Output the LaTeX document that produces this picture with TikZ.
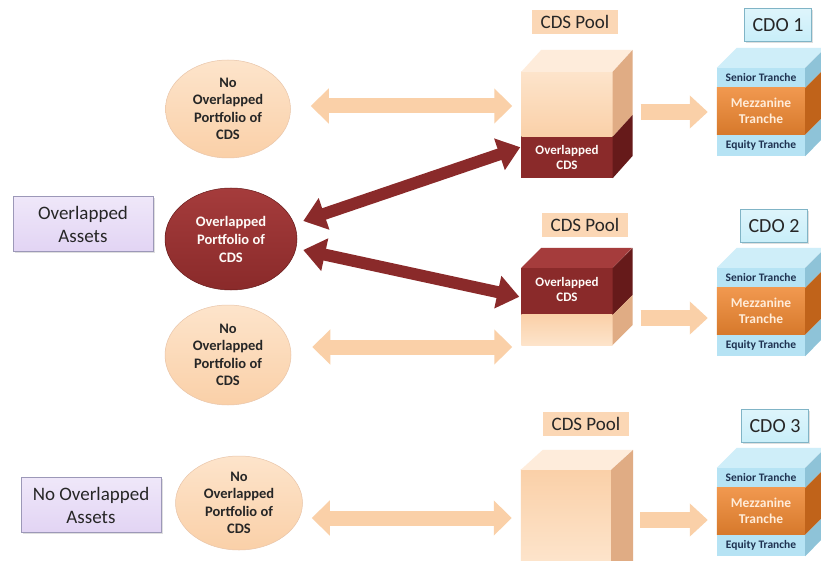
\documentclass[tikz,border=0pt]{standalone}
\usepackage{fontspec}
\setmainfont{Carlito}
\usetikzlibrary{shapes.geometric,arrows.meta,calc,shadows}

\definecolor{peach}{HTML}{FAD0A8}
\definecolor{peachlight}{HTML}{FDE4CB}
\definecolor{peachdark}{HTML}{E0AC84}
\definecolor{wine}{HTML}{8A2A2A}
\definecolor{winedark}{HTML}{661A1A}
\definecolor{winelight}{HTML}{A53C3C}
\definecolor{lav}{HTML}{E2D4F4}
\definecolor{lavline}{HTML}{9C98B8}
\definecolor{skyb}{HTML}{C8EEF9}
\definecolor{skyline}{HTML}{80B4C6}
\definecolor{tranche}{HTML}{B6E3F4}
\definecolor{tranchetop}{HTML}{CFEEF9}
\definecolor{tranchedark}{HTML}{8EC3D8}
\definecolor{mezz}{HTML}{EE8630}
\definecolor{mezzdark}{HTML}{C0631A}
\definecolor{navytxt}{HTML}{1E3150}
\definecolor{ink}{HTML}{262626}

\tikzset{
  assetbox/.style={rectangle, minimum width=140pt, minimum height=55pt,
    top color=lav!55!white, bottom color=lav, draw=lavline, line width=0.8pt,
    font=\fontsize{19}{23}\selectfont, align=center, text=ink,
    drop shadow={opacity=0.25, shadow xshift=1.5pt, shadow yshift=-1.5pt}},
  lightoval/.style={ellipse, top color=peachlight, bottom color=peach,
    draw=peachdark!70, line width=0.5pt, inner sep=0pt,
    font=\bfseries\fontsize{14.5}{17.5}\selectfont, align=center, text=ink},
  darkoval/.style={ellipse, top color=winelight, bottom color=wine,
    draw=winedark, line width=0.5pt, inner sep=0pt,
    font=\bfseries\fontsize{14.5}{18}\selectfont, align=center, text=white!92!peach},
  poollabel/.style={rectangle, fill=peach!85, minimum width=86pt, minimum height=24pt,
    inner sep=0pt, font=\fontsize{19}{22}\selectfont, text=ink},
  cdolabel/.style={rectangle, top color=skyb!60!white, bottom color=skyb, draw=skyline,
    line width=0.6pt, minimum width=67pt, minimum height=33pt, inner sep=0pt,
    font=\fontsize{20}{22}\selectfont, text=ink,
    drop shadow={opacity=0.25, shadow xshift=1.5pt, shadow yshift=-1.5pt}},
  blockref/.style={rectangle, inner sep=0pt, draw=none},
  cubetext/.style={font=\bfseries\fontsize{13}{15}\selectfont, align=center, text=white!92!peach},
  tranchetext/.style={font=\bfseries\fontsize{11.5}{13}\selectfont, text=navytxt},
  mezztext/.style={font=\bfseries\fontsize{13.5}{16}\selectfont, align=center, text=white!85!orange},
  peachdouble/.style={draw=peach, line width=15pt,
    {Triangle[length=18pt,width=34pt]}-{Triangle[length=18pt,width=34pt]}},
  peachsingle/.style={draw=peach, line width=16pt, -{Triangle[length=18pt,width=32pt]}},
  winedouble/.style={draw=wine, line width=12pt,
    {Triangle[length=22pt,width=32pt]}-{Triangle[length=22pt,width=32pt]}},
}

\begin{document}
\begin{tikzpicture}[x=1pt,y=-1pt]
\useasboundingbox (0,0) rectangle (821,561);
\fill[white] (0,0) rectangle (821,561);
\clip (0,0) rectangle (821,561);

% ---- left column: asset boxes and portfolio ovals
\node[assetbox] (oa) at (83,224) {Overlapped\\Assets};
\node[assetbox] (noa) at (91,505) {No Overlapped\\Assets};

\node[lightoval, minimum width=125pt, minimum height=98pt] (e1) at (228,109) {No\\Overlapped\\Portfolio of\\CDS};
\node[darkoval, minimum width=132pt, minimum height=102pt] (e2) at (231,239) {Overlapped\\Portfolio of\\CDS};
\node[lightoval, minimum width=126pt, minimum height=100pt] (e3) at (228,355) {No\\Overlapped\\Portfolio of\\CDS};
\node[lightoval, minimum width=127pt, minimum height=94pt] (e4) at (239,503) {No\\Overlapped\\Portfolio of\\CDS};

% ---- reference frames for the pool cubes and CDO cubes (front faces)
\node[blockref, minimum width=91pt, minimum height=106pt] (pool1) at (567,125) {};
\node[blockref, minimum width=91pt, minimum height=77pt] (pool2) at (567,306.5) {};
\node[blockref, minimum width=90pt, minimum height=91pt] (pool3) at (566,515.5) {};
\node[blockref, minimum width=88pt, minimum height=88pt] (cdo1) at (761,112) {};
\node[blockref, minimum width=88pt, minimum height=88pt] (cdo2) at (761,312) {};
\node[blockref, minimum width=88pt, minimum height=88pt] (cdo3) at (761,512) {};

% ---- connectors between ovals and pools
\draw[peachdouble] ($(e1.east)+(20,-3)$) -- ($(pool1.west |- e1.east)+(-9,-3)$);
\draw[peachdouble] ($(e3.east)+(21,-8)$) -- ($(pool2.west |- e3.east)+(-9,-8)$);
\draw[peachdouble] ($(e4.east)+(9,15)$) -- ($(pool3.west |- e4.east)+(-9,15)$);
\draw[winedouble] ($(e2.east)+(6,-18)$) -- ($(pool1.south west)+(-1,-31)$);
\draw[winedouble] ($(e2.east)+(6,11)$) -- ($(pool2.north west)+(-2,29)$);

% ---- pool cube 1: overlapped CDS at the bottom
\fill[top color=peachlight, bottom color=peach] (pool1.north west) rectangle ($(pool1.north east)+(0,65)$);
\fill[wine] ($(pool1.north west)+(0,65)$) rectangle (pool1.south east);
\fill[peachlight!70!white] (pool1.north west) -- ++(20,-22) -- ++(91,0) -- (pool1.north east) -- cycle;
\fill[peachdark] (pool1.north east) -- ++(20,-22) -- ++(0,65) -- ++(-20,22) -- cycle;
\fill[winedark] ($(pool1.north east)+(0,65)$) -- ++(20,-22) -- ++(0,41) -- (pool1.south east) -- cycle;
\node[cubetext] (t1) at ($(pool1.south)+(0,-21)$) {Overlapped\\CDS};

% ---- pool cube 2: overlapped CDS on top
\fill[wine] (pool2.north west) rectangle ($(pool2.north east)+(0,47)$);
\fill[top color=peach, bottom color=peachlight] ($(pool2.north west)+(0,47)$) rectangle (pool2.south east);
\fill[winelight] (pool2.north west) -- ++(20,-20) -- ++(91,0) -- (pool2.north east) -- cycle;
\fill[winedark] (pool2.north east) -- ++(20,-20) -- ++(0,47) -- ++(-20,20) -- cycle;
\fill[peachdark] ($(pool2.north east)+(0,47)$) -- ++(20,-20) -- ++(0,30) -- ++(-20,20) -- cycle;
\node[cubetext] (t2) at ($(pool2.north)+(0,22)$) {Overlapped\\CDS};

% ---- pool cube 3: no overlap, running off the lower edge
\fill[top color=peach, bottom color=peachlight] (pool3.north west) rectangle (pool3.south east);
\fill[peachlight!70!white] (pool3.north west) -- ++(22,-20) -- ++(90,0) -- (pool3.north east) -- cycle;
\fill[peachdark] (pool3.north east) -- ++(22,-20) -- ($(pool3.south east)+(22,0)$) -- (pool3.south east) -- cycle;

% ---- CDO cubes with three tranches
\foreach \c in {cdo1,cdo2,cdo3}{
  \fill[tranche] (\c.north west) rectangle ($(\c.north east)+(0,20)$);
  \fill[top color=mezz!85!white, bottom color=mezz!90!black] ($(\c.north west)+(0,20)$) rectangle ($(\c.north east)+(0,67)$);
  \fill[tranche] ($(\c.north west)+(0,67)$) rectangle (\c.south east);
  \fill[tranchetop] (\c.north west) -- ++(20,-20) -- ++(88,0) -- (\c.north east) -- cycle;
  \fill[tranchedark] (\c.north east) -- ++(20,-20) -- ++(0,20) -- ++(-20,20) -- cycle;
  \fill[mezzdark] ($(\c.north east)+(0,20)$) -- ++(20,-20) -- ++(0,47) -- ++(-20,20) -- cycle;
  \fill[tranchedark] ($(\c.north east)+(0,67)$) -- ++(20,-20) -- ++(0,21) -- (\c.south east) -- cycle;
  \node[tranchetext] at ($(\c.north)+(0,10)$) {Senior Tranche};
  \node[mezztext] at ($(\c.north)+(0,43.5)$) {Mezzanine\\Tranche};
  \node[tranchetext] at ($(\c.south)+(0,-10.5)$) {Equity Tranche};
}

% ---- pool to CDO connectors
\draw[peachsingle] ($(pool1.east |- cdo1.west)+(28,0)$) -- ($(cdo1.west)+(-9,0)$);
\draw[peachsingle] ($(pool2.east |- cdo2.west)+(28,6)$) -- ($(cdo2.west)+(-9,6)$);
\draw[peachsingle] ($(pool3.east |- cdo3.west)+(29,8)$) -- ($(cdo3.west)+(-9,8)$);

% ---- labels above the cubes
\node[poollabel] (pl1) at (575,22) {CDS Pool};
\node[poollabel] (pl2) at (585,225) {CDS Pool};
\node[poollabel] (pl3) at (586,424) {CDS Pool};
\node[cdolabel] (cl1) at (778,25) {CDO 1};
\node[cdolabel] (cl2) at (774,226) {CDO 2};
\node[cdolabel] (cl3) at (775,426) {CDO 3};
\end{tikzpicture}
\end{document}
